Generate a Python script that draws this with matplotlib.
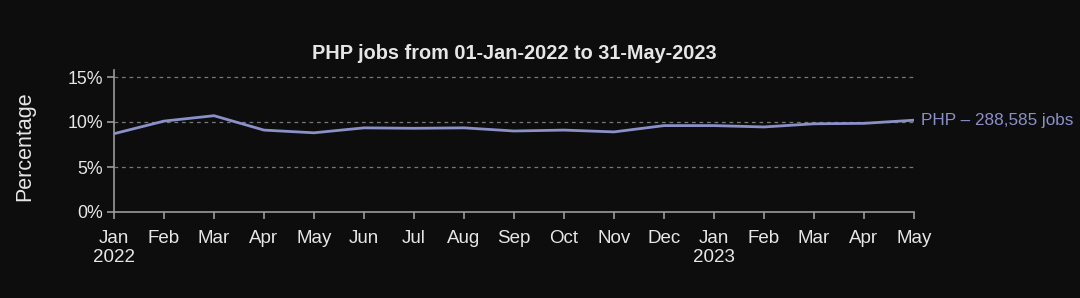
import matplotlib
matplotlib.use("Agg")
import matplotlib.pyplot as plt
import numpy as np

months = ["Jan", "Feb", "Mar", "Apr", "May", "Jun", "Jul", "Aug", "Sep", "Oct",
          "Nov", "Dec", "Jan", "Feb", "Mar", "Apr", "May"]
tick_labels = ["Jan\n2022", "Feb", "Mar", "Apr", "May", "Jun", "Jul", "Aug", "Sep", "Oct",
               "Nov", "Dec", "Jan\n2023", "Feb", "Mar", "Apr", "May"]
php_pct = [8.7, 10.1, 10.7, 9.1, 8.8, 9.35, 9.3, 9.35, 9.0, 9.1, 8.9, 9.6, 9.6, 9.45, 9.8, 9.85, 10.2]
series_label = "PHP – 288,585 jobs"
title = "PHP jobs from 01-Jan-2022 to 31-May-2023"

plt.rcParams['font.family'] = ['Liberation Sans', 'DejaVu Sans']

bg = "#0d0d0d"
fg = "#e6e6e6"
line_color = "#8b90c9"

fig = plt.figure(figsize=(10.8, 2.98), dpi=100, facecolor=bg)
ax = fig.add_axes([114/1080, 1-212/298, 800/1080, 142/298], facecolor=bg)

x = np.arange(len(php_pct))
ax.plot(x, php_pct, color=line_color, lw=2, solid_capstyle='round', zorder=3)
ax.set_xlim(0, len(php_pct) - 1)
ax.set_ylim(0, 142/9)
ax.set_yticks([0, 5, 10, 15])
ax.set_yticklabels(["0%", "5%", "10%", "15%"])
ax.set_xticks(x)
ax.set_xticklabels(tick_labels)
ax.yaxis.grid(True, color="#777777", linestyle=(0, (3, 3)), lw=0.9)
ax.set_axisbelow(True)

for s in ["top", "right"]:
    ax.spines[s].set_visible(False)
for s in ["left", "bottom"]:
    ax.spines[s].set_color("#9a9a9a")
    ax.spines[s].set_linewidth(1.2)

ax.tick_params(axis='x', colors="#9a9a9a", labelcolor=fg, labelsize=13.5, length=5, width=1.2, pad=8)
ax.tick_params(axis='y', colors="#9a9a9a", labelcolor=fg, labelsize=12.8, length=5, width=1.2, pad=3)
for lbl in ax.get_xticklabels():
    lbl.set_linespacing(1.15)

ax.set_title(title, color=fg, fontsize=14.3, fontweight='bold', pad=8)
fig.text(25/1080, 1-146/298, "Percentage", color=fg, fontsize=15.5, rotation=90,
         ha='center', va='center')

ax.annotate(series_label, xy=(x[-1], php_pct[-1]), xytext=(5, 0), textcoords='offset points',
            color=line_color, fontsize=12.3, va='center', ha='left', annotation_clip=False)

fig.savefig("out.png", dpi=100, facecolor=bg)
